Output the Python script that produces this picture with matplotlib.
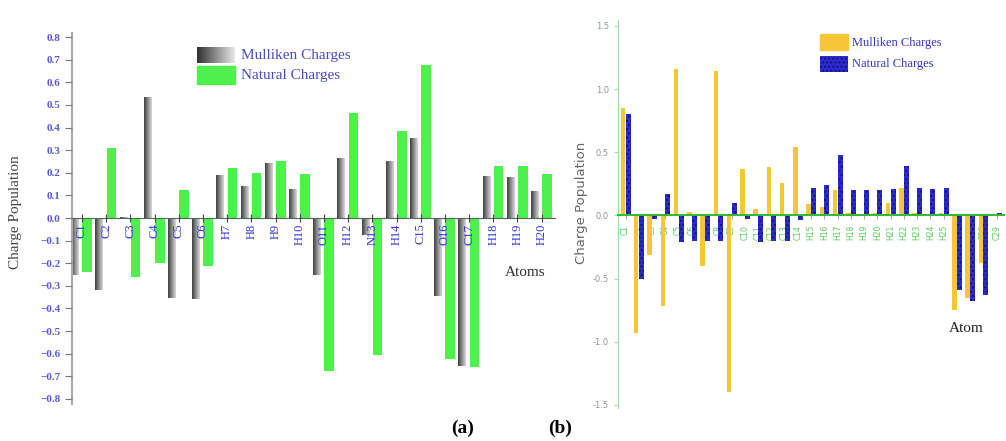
import matplotlib
matplotlib.use('Agg')
import matplotlib.pyplot as plt
from matplotlib.patches import Rectangle
import numpy as np

# ---- panel (a) data ----
atoms_a = ['C1', 'C2', 'C3', 'C4', 'C5', 'C6', 'H7', 'H8', 'H9', 'H10',
           'O11', 'H12', 'N13', 'H14', 'C15', 'O16', 'C17', 'H18', 'H19', 'H20']
mulliken_a = [-0.25, -0.32, 0.005, 0.535, -0.355, -0.36, 0.19, 0.14, 0.245, 0.13,
              -0.25, 0.265, -0.075, 0.25, 0.355, -0.345, -0.655, 0.185, 0.18, 0.12]
natural_a = [-0.24, 0.31, -0.26, -0.20, 0.125, -0.21, 0.22, 0.20, 0.25, 0.195,
             -0.675, 0.465, -0.605, 0.385, 0.675, -0.625, -0.66, 0.23, 0.23, 0.195]
yticks_a = np.round(np.arange(-0.8, 0.81, 0.1), 1)

# ---- panel (b) data ----
atoms_b = ['C1', 'C2', 'C3', 'C4', 'C5', 'C6', 'C7', 'C8', 'C9', 'C10',
           'C11', 'C12', 'C13', 'C14', 'H15', 'H16', 'H17', 'H18', 'H19', 'H20',
           'H21', 'H22', 'H23', 'H24', 'H25', 'O26', 'O27', 'O28', 'C29']
mulliken_b = [0.85, -0.93, -0.31, -0.72, 1.16, 0.03, -0.40, 1.14, -1.40, 0.37,
              0.05, 0.38, 0.26, 0.54, 0.09, 0.07, 0.20, 0.02, 0.01, 0.02,
              0.10, 0.22, 0.02, 0.01, 0.02, -0.75, -0.65, -0.38, 0.01]
natural_b = [0.80, -0.50, -0.03, 0.17, -0.21, -0.20, -0.20, -0.20, 0.10, -0.03,
             -0.21, -0.20, -0.20, -0.04, 0.22, 0.24, 0.48, 0.20, 0.20, 0.20,
             0.21, 0.39, 0.22, 0.21, 0.22, -0.59, -0.68, -0.63, 0.02]
yticks_b = [-1.5, -1.0, -0.5, 0.0, 0.5, 1.0, 1.5]

W, H = 1006, 441
SERIF = 'Liberation Serif'

fig = plt.figure(figsize=(W / 100, H / 100), dpi=100)
fig.patch.set_facecolor('white')


def px_rect(x0, y0, x1, y1, **kw):
    """Rectangle given in pixel coords (y from top)"""
    fig.add_artist(Rectangle((x0 / W, 1 - y1 / H), (x1 - x0) / W, (y1 - y0) / H,
                             transform=fig.transFigure, **kw))


def gray_gradient(ax, bar):
    x0, y0 = bar.get_x(), bar.get_y()
    w, h = bar.get_width(), bar.get_height()
    grad = np.linspace(0.25, 0.85, 32).reshape(1, -1)
    im = ax.imshow(grad, extent=[x0, x0 + w, y0, y0 + h], cmap='gray', vmin=0, vmax=1,
                   aspect='auto', interpolation='bilinear', zorder=2)
    im.set_clip_path(bar)


def fmt(v):
    if abs(v) < 1e-9:
        return '0.0'
    return f'{v:.1f}'.replace('-', '\u2212')


# ================= panel (a) =================
axa = fig.add_axes([72 / W, 1 - 403.5 / H, 483 / W, 371 / H])
xa = np.arange(len(atoms_a))
bars_m = axa.bar(xa - 0.28, mulliken_a, width=0.32, color='#8c8c8c', zorder=2)
for b in bars_m:
    gray_gradient(axa, b)
axa.bar(xa + 0.22, natural_a, width=0.40, color='#4df04d', zorder=2)

axa.set_xlim(-0.41, 19.55)
axa.set_ylim(-0.82, 0.82)
axa.set_axisbelow(False)
axa.spines['top'].set_visible(False)
axa.spines['right'].set_visible(False)
axa.spines['bottom'].set_position(('data', 0))
axa.spines['bottom'].set_color('#556655')
axa.spines['left'].set_color('#aaaaaa')
axa.spines['left'].set_linewidth(1.5)

axa.set_yticks(yticks_a)
axa.set_yticklabels([fmt(v) for v in yticks_a],
                    family=SERIF, fontsize=8, fontweight='bold', color='#5a5ae0')
axa.tick_params(axis='y', length=5, color='#777777')
axa.set_xticks(xa)
axa.set_xticklabels(atoms_a, rotation=90, family=SERIF, fontsize=9, color='#3333cc', va='top')
axa.tick_params(axis='x', direction='inout', length=6, color='#444444', pad=1)

fig.text(16 / W, 1 - 212 / H, 'Charge Population', rotation=90, ha='center', va='center',
         family=SERIF, fontsize=11, color='#444444')
fig.text(525 / W, 1 - 272 / H, 'Atoms', ha='center', va='center',
         family=SERIF, fontsize=11, color='#333333')

# legend (a)
lg = fig.add_axes([197 / W, 1 - 63 / H, 38 / W, 16 / H])
lg.imshow(np.linspace(0.2, 0.9, 32).reshape(1, -1), cmap='gray', vmin=0, vmax=1,
          aspect='auto', interpolation='bilinear')
lg.axis('off')
px_rect(197, 66, 235, 84, color='#4df04d')
fig.text(241 / W, 1 - 56 / H, 'Mulliken Charges', va='center', family=SERIF,
         fontsize=11, color='#4a4ac0')
fig.text(241 / W, 1 - 76 / H, 'Natural Charges', va='center', family=SERIF,
         fontsize=11, color='#4a4ac0')

# ================= panel (b) =================
axb = fig.add_axes([618 / W, 1 - 407.5 / H, 386 / W, 388 / H])
xb = np.arange(len(atoms_b))
axb.bar(xb - 0.19, mulliken_b, width=0.33, color='#f6c636', zorder=2)
axb.bar(xb + 0.19, natural_b, width=0.38, color='#2a2ad8', hatch='....',
        edgecolor='#15155a', linewidth=0, zorder=3)

axb.set_xlim(-0.57, 28.55)
axb.set_ylim(-1.52, 1.55)
axb.spines['top'].set_visible(False)
axb.spines['right'].set_visible(False)
axb.spines['bottom'].set_position(('data', 0))
axb.spines['bottom'].set_color('#33bb33')
axb.spines['bottom'].set_linewidth(1.5)
axb.spines['bottom'].set_zorder(4)
axb.spines['left'].set_color('#9be09b')

axb.set_yticks(yticks_b)
axb.set_yticklabels([f'{v:.1f}' for v in yticks_b], fontsize=6, color='#8a9a8a')
axb.tick_params(axis='y', length=3, color='#9be09b')
axb.set_xticks(xb)
axb.set_xticklabels(atoms_b, rotation=90, fontsize=5.5, color='#55cc55', va='top')
axb.tick_params(axis='x', length=3, color='#aaaaaa', pad=4)

fig.text(581 / W, 1 - 203 / H, 'Charge Population', rotation=90, ha='center', va='center',
         fontsize=9.5, color='#666666')
fig.text(966 / W, 1 - 328 / H, 'Atom', ha='center', va='center',
         family=SERIF, fontsize=11, color='#222222')

# legend (b)
px_rect(820, 34, 848, 50, color='#f6c636')
px_rect(820, 56, 848, 72, facecolor='#2a2ad8', hatch='....', edgecolor='#15155a', linewidth=0)
fig.text(852 / W, 1 - 43 / H, 'Mulliken Charges', va='center', family=SERIF,
         fontsize=9, color='#3434c0')
fig.text(852 / W, 1 - 64 / H, 'Natural Charges', va='center', family=SERIF,
         fontsize=9, color='#3434c0')

# panel captions
fig.text(463 / W, 1 - 428 / H, '(a)', ha='center', va='center', family=SERIF,
         fontsize=14, fontweight='bold')
fig.text(560 / W, 1 - 428 / H, '(b)', ha='center', va='center', family=SERIF,
         fontsize=14, fontweight='bold')

fig.savefig('out.png', dpi=100)
